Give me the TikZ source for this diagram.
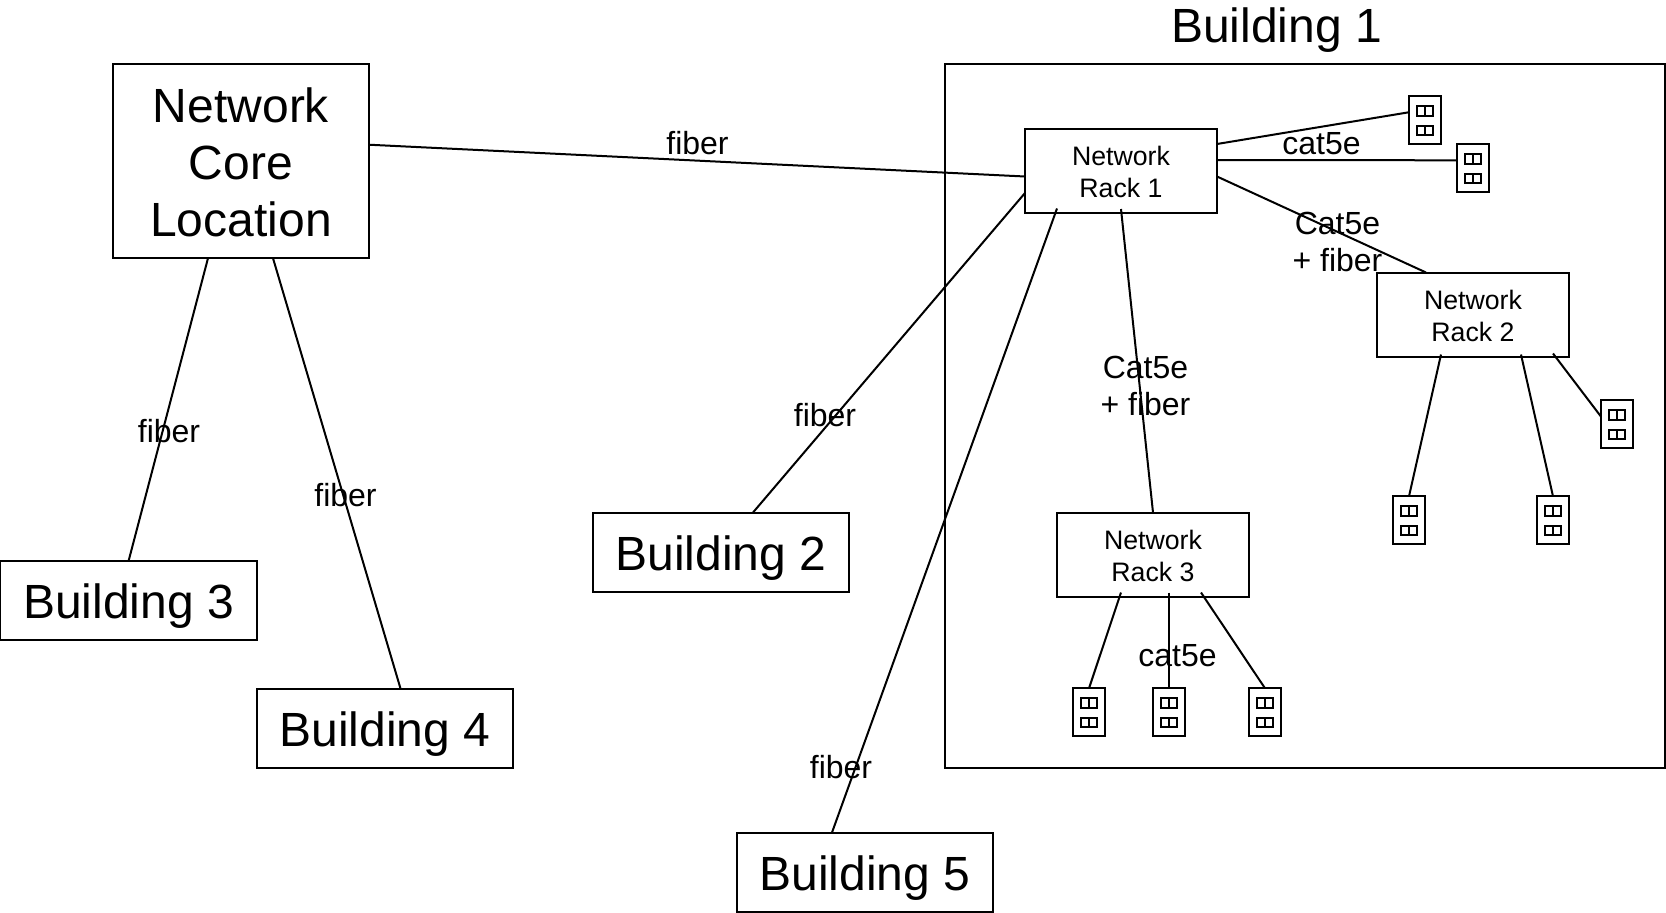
\documentclass[tikz,border=0pt]{standalone}
\usepackage{fontspec}
\setmainfont{Liberation Sans}
\newcommand{\bigtext}{\fontsize{48}{57}\selectfont}
\newcommand{\racktext}{\fontsize{26.7}{32}\selectfont}
\newcommand{\labtext}{\fontsize{32}{37}\selectfont}
\tikzset{
  base/.style={draw=black,line width=2pt,inner sep=0pt,outer sep=0pt,align=center,text=black},
  bldg/.style={base,minimum width=256.5pt,minimum height=79pt,font=\bigtext,text height=42pt,text depth=5pt},
  corebox/.style={base,minimum width=256pt,minimum height=194pt,font=\bigtext},
  rackbox/.style={base,minimum width=192pt,minimum height=84pt,font=\racktext,text height=54pt,text depth=0pt},
  outletbox/.style={base,minimum width=32.5pt,minimum height=48pt},
  socket/.style={base,minimum width=16.5pt,minimum height=9.5pt},
  wire/.style={draw=black,line width=2pt},
  lab/.style={inner sep=0pt,align=center,text=black,font=\labtext},
}
\newcommand{\outlet}[3]{%
  \node[outletbox] (#1) at (#2,#3) {};
  \node[socket] (#1a) at ([yshift=9.5pt]#1.center) {};
  \node[socket] (#1b) at ([yshift=-10pt]#1.center) {};
  \draw[wire] (#1a.north) -- (#1a.south);
  \draw[wire] (#1b.north) -- (#1b.south);
}
\begin{document}
\begin{tikzpicture}[x=1pt,y=-1pt]
\useasboundingbox (0,0) rectangle (1666,913);
% boxes
\node[base,minimum width=720.5pt,minimum height=704pt] (b1) at (1304.8,416.2) {};
\node[corebox,align=center] (core) at (240.6,161.2) {};
\node[inner sep=0pt,align=center,font=\bigtext] (coretxt) at (241,162.5) {Network\\Core\\Location};
\node[bldg] (b2) at (721,552) {Building 2};
\node[bldg] (b3) at (128.7,600) {Building 3};
\node[bldg] (b4) at (385,728) {Building 4};
\node[bldg] (b5) at (865,872) {Building 5};
\node[rackbox] (r1) at (1121,170.5) {Network\\Rack 1};
\node[rackbox] (r2) at (1473,314.5) {Network\\Rack 2};
\node[rackbox] (r3) at (1153,554.5) {Network\\Rack 3};
\outlet{oa}{1425}{120.3}
\outlet{ob}{1473}{168.3}
\outlet{oc}{1089}{712.3}
\outlet{od}{1169}{712.3}
\outlet{oe}{1265}{712.3}
\outlet{of}{1617}{424.3}
\outlet{og}{1409}{520.3}
\outlet{oh}{1553}{520.3}
% connectors
\draw[wire] ([yshift=16.5pt]core.east) -- ([yshift=-6pt]r1.west);
\draw[wire] ([yshift=-22.5pt]r1.west) -- ([xshift=32pt]b2.north);
\draw[wire] ([xshift=-64pt,yshift=4pt]r1.south) -- ([xshift=-33pt]b5.north);
\draw[wire] ([xshift=-32.6pt]core.south) -- (b3.north);
\draw[wire] ([xshift=32.4pt]core.south) -- ([xshift=15.5pt]b4.north);
\draw[wire] ([yshift=3.5pt]r1.south) -- (r3.north);
\draw[wire] ([yshift=26.5pt]r1.east) -- ([yshift=8pt]oa.west);
\draw[wire] ([yshift=10.5pt]r1.east) -- ([yshift=8pt]ob.west);
\draw[wire] ([yshift=-6pt]r1.east) -- ([xshift=-47pt]r2.north);
\draw[wire] ([xshift=-32pt,yshift=2pt]r2.south) -- (og.north);
\draw[wire] ([xshift=48pt,yshift=2pt]r2.south) -- (oh.north);
\draw[wire] ([xshift=80pt,yshift=3pt]r2.south) -- ([yshift=8pt]of.west);
\draw[wire] ([xshift=-32pt,yshift=4pt]r3.south) -- (oc.north);
\draw[wire] ([xshift=16pt,yshift=4pt]r3.south) -- (od.north);
\draw[wire] ([xshift=48pt,yshift=4pt]r3.south) -- (oe.north);
% labels
\node[inner sep=0pt,font=\bigtext] (t1) at (1276.5,30.5) {Building 1};
\node[lab] (l1) at (697.5,143.5) {fiber};
\node[lab] (l2) at (1321.5,144) {cat5e};
\node[lab] (l3) at (1337.5,242) {Cat5e\\+ fiber};
\node[lab] (l4) at (1145.5,386) {Cat5e\\+ fiber};
\node[lab] (l5) at (1177.5,655.5) {cat5e};
\node[lab] (l6) at (169,431) {fiber};
\node[lab] (l7) at (345.5,495) {fiber};
\node[lab] (l8) at (825,415.5) {fiber};
\node[lab] (l9) at (841,767) {fiber};
\end{tikzpicture}
\end{document}
